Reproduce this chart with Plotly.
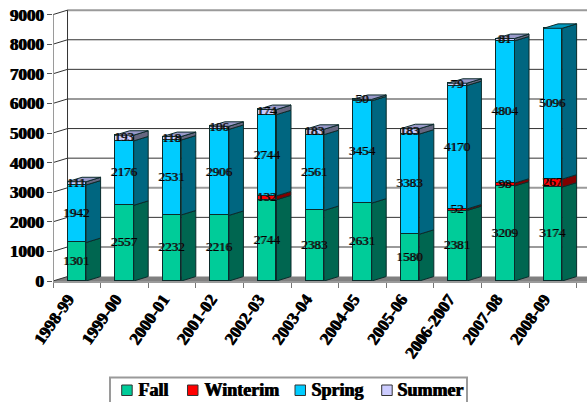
import plotly.graph_objects as go

years = ["1998-99", "1999-00", "2000-01", "2001-02", "2002-03", "2003-04",
         "2004-05", "2005-06", "2006-2007", "2007-08", "2008-09"]
fall = [1301, 2557, 2232, 2216, 2744, 2383, 2631, 1580, 2381, 3209, 3174]
winterim = [0, 0, 0, 0, 132, 0, 0, 0, 52, 98, 267]
spring = [1942, 2176, 2531, 2906, 2744, 2561, 3454, 3383, 4170, 4804, 5096]
summer = [111, 193, 118, 106, 174, 183, 50, 183, 79, 81, 0]
y_ticks = [0, 1000, 2000, 3000, 4000, 5000, 6000, 7000, 8000, 9000]

names = ["Fall", "Winterim", "Spring", "Summer"]
data = [fall, winterim, spring, summer]
front = ["#00CC99", "#FF0000", "#00CCFF", "#CCCCFF"]
side = ["#006650", "#800000", "#006680", "#666680"]
top = ["#0099BF", "#BF0000", "#0099BF", "#9999C8"]

FONT = "Liberation Serif"
EDGE = "#0B2B2B"
SMEAR = "1px 0px 0px #000000"
W, H = 587, 402
ML, MB = 53, 121
BAR_W = 0.39
DX = 0.305      # depth of the 3-D box, in category units
DY = 150        # depth of the 3-D box, in value units
XMAX = 10.718
YMAX = 9493
idx = list(range(len(years)))


def px(x):
    return (x - ML) / (W - ML)


def py(y):
    return (H - MB - y) / (H - MB)


fig = go.Figure()

# Front faces
for name, vals, col in zip(names, data, front):
    fig.add_trace(go.Bar(
        x=idx, y=[v if v else None for v in vals], name=name, width=BAR_W,
        marker=dict(color=col, line=dict(color=EDGE, width=1)), showlegend=False,
    ))

# Side and top faces, derived from the stacked values
base = [0] * len(years)
for s, (name, vals) in enumerate(zip(names, data)):
    sx, sy, tx, ty = [], [], [], []
    for i, v in enumerate(vals):
        if not v:
            continue
        r = i + BAR_W / 2
        l = i - BAR_W / 2
        y0, y1 = base[i], base[i] + v
        sx += [r, r + DX, r + DX, r, r, None]
        sy += [y0, y0 + DY, y1 + DY, y1, y0, None]
        if all(not d[i] for d in data[s + 1:]):
            tx += [l, l + DX, r + DX, r, l, None]
            ty += [y1, y1 + DY, y1 + DY, y1, y1, None]
    for xs, ys, c in ((sx, sy, side[s]), (tx, ty, top[s])):
        if xs:
            fig.add_trace(go.Scatter(
                x=xs, y=ys, mode="lines", fill="toself", fillcolor=c,
                line=dict(color=EDGE, width=1), showlegend=False, hoverinfo="skip",
            ))
    base = [b + v for b, v in zip(base, vals)]

# Data labels
base = [0] * len(years)
for vals in data:
    xs = [i for i, v in enumerate(vals) if v]
    ys = [base[i] + vals[i] / 2 for i in xs]
    fig.add_trace(go.Scatter(
        x=xs, y=ys, mode="text", text=[str(vals[i]) for i in xs],
        textposition="middle center",
        textfont=dict(family=FONT, size=13, color="#000000", shadow="-1px 0px 0px #333333"),
        showlegend=False, hoverinfo="skip", cliponaxis=False,
    ))
    base = [b + v for b, v in zip(base, vals)]

# Floor, back wall, gridlines
shapes = [dict(
    type="path", layer="below", xref="x", yref="y",
    path=f"M -0.5 0 L {-0.5 + DX} {DY} L {XMAX + 1} {DY} L {XMAX + 1} 0 Z",
    fillcolor="#808080", line=dict(width=0),
)]
grey_lines = {0, 1000, 3000, 6000, 9000}
for t in y_ticks:
    c = "#9A9A9A" if t in grey_lines else "#333333"
    w = 2 if t in grey_lines else 1
    if t:
        shapes.append(dict(type="line", layer="below", xref="x", yref="y",
                           x0=-0.5 + DX, x1=XMAX + 1, y0=t + DY, y1=t + DY,
                           line=dict(color=c, width=w)))
    shapes.append(dict(type="line", layer="below", xref="x", yref="y",
                       x0=-0.5, x1=-0.5 + DX, y0=t, y1=t + DY,
                       line=dict(color="#333333", width=1)))
shapes.append(dict(type="line", layer="below", xref="x", yref="y",
                   x0=-0.5 + DX, x1=-0.5 + DX, y0=DY, y1=9000 + DY,
                   line=dict(color="#333333", width=1)))
shapes.append(dict(type="line", layer="above", xref="x", yref="y",
                   x0=-0.5, x1=-0.5, y0=0, y1=9000,
                   line=dict(color="#9A9A9A", width=2)))

# Legend box, swatches and labels
swatch_left = [121.7, 187.5, 295, 381.7]
label_left = [137, 203, 310, 396]
shapes.append(dict(type="rect", xref="paper", yref="paper",
                   x0=px(110), x1=px(467), y0=py(377.5), y1=py(403),
                   line=dict(color="#9A9A9A", width=2), fillcolor="white"))
annotations = []
for name, col, sl, tl in zip(names, front, swatch_left, label_left):
    shapes.append(dict(type="rect", xref="paper", yref="paper",
                       x0=px(sl), x1=px(sl + 10.5), y0=py(385), y1=py(395.5),
                       line=dict(color="#333333", width=1), fillcolor=col))
    annotations.append(dict(
        xref="paper", yref="paper", x=px(tl), y=py(390), text=name, showarrow=False,
        xanchor="left", yanchor="middle", xshift=-1,
        font=dict(family=FONT, size=18, weight="bold", color="#000000", shadow=SMEAR),
    ))

fig.update_layout(
    width=W, height=H, barmode="stack",
    margin=dict(l=ML, r=0, t=0, b=MB, autoexpand=False),
    paper_bgcolor="white", plot_bgcolor="white",
    shapes=shapes, annotations=annotations,
    bargap=0, showlegend=False,
    font=dict(family=FONT, color="#000000"),
    xaxis=dict(
        automargin=False,
        range=[-0.5, XMAX], tickmode="array", tickvals=idx, ticktext=years,
        tickangle=-55, ticks="", showgrid=False, zeroline=False,
        showline=True, linecolor="#9A9A9A", linewidth=2, ticklabelshift=-9,
        tickfont=dict(family=FONT, size=17, weight="bold", color="#000000", shadow=SMEAR),
        minor=dict(tickmode="array", tickvals=[i - 0.5 for i in range(len(years) + 1)],
                   ticks="outside", ticklen=5, tickcolor="#777777", tickwidth=1, showgrid=False),
    ),
    yaxis=dict(
        automargin=False,
        range=[0, YMAX], tickmode="array", tickvals=y_ticks,
        ticks="outside", ticklen=5, tickcolor="#555555", tickwidth=1,
        showgrid=False, zeroline=False, showline=False,
        tickfont=dict(family=FONT, size=17, weight="bold", color="#000000", shadow=SMEAR),
    ),
)

fig.write_html("out.html", config={"displayModeBar": False},
               post_script="document.body.style.margin='0';document.documentElement.style.overflow='hidden';")
